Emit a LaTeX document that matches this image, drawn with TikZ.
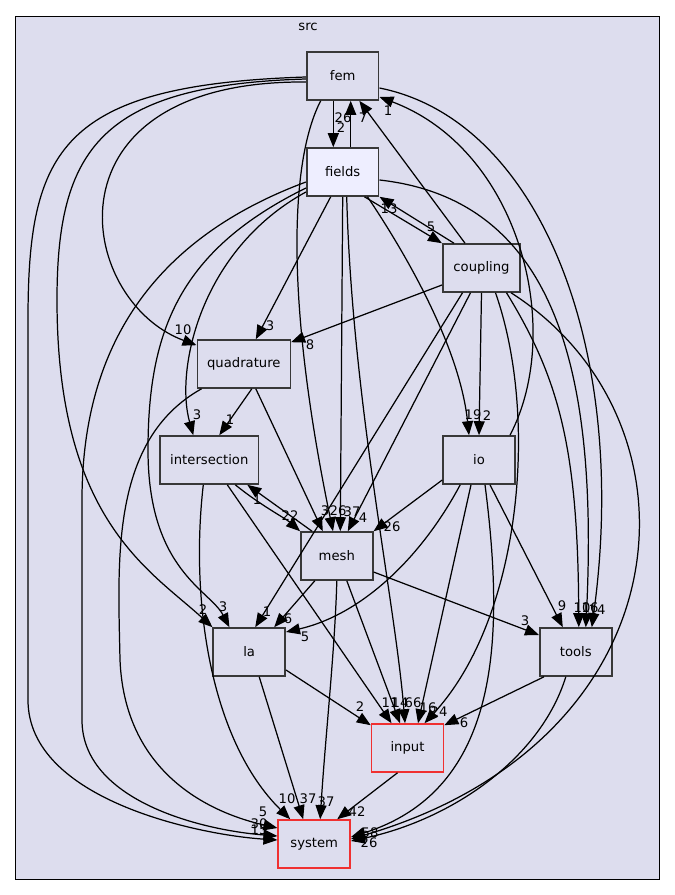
\documentclass[tikz,border=0pt]{standalone}
\usepackage{fontspec}
\setmainfont{DejaVu Sans}
\usepackage{tikz}
\usetikzlibrary{calc,arrows.meta}
\definecolor{clusterbg}{HTML}{DDDDEE}
\definecolor{curbg}{HTML}{EEEEFF}
\definecolor{edge}{HTML}{000000}
\definecolor{boxline}{HTML}{383838}
\definecolor{extline}{HTML}{F03030}
\tikzset{
  cluster/.style={draw=black, fill=clusterbg, line width=0.7pt},
  dirbox/.style={draw=boxline, fill=clusterbg, line width=0.9pt, minimum width=14.4mm,
    minimum height=9.6mm, inner sep=0pt, text=edge, font=\fontsize{7.5}{8.5}\selectfont},
  curbox/.style={dirbox, fill=curbg},
  extbox/.style={dirbox, draw=extline},
  dep/.style={draw=edge, line width=0.7pt, -{Triangle[length=2.8mm,width=2.2mm]}},
  lab/.style={font=\fontsize{7.5}{8.5}\selectfont, inner sep=0pt, text=edge}
}

\begin{document}
\begin{tikzpicture}[x=0.02cm, y=-0.02cm]
  \useasboundingbox[fill=white] (0,0) rectangle (675,895);
  \draw[cluster] (15.5,16.5) rectangle (659.5,879.5);
  \node[lab] (srclabel) at (308,27) {src};

  % directories
  \node[dirbox] (fem) at (342.7,76) {fem};
  \node[curbox] (fields) at (342.7,172) {fields};
  \node[dirbox, minimum width=15.5mm] (coupling) at (481.5,268) {coupling};
  \node[dirbox, minimum width=18.6mm] (quadrature) at (243.8,364) {quadrature};
  \node[dirbox, minimum width=19.7mm] (intersection) at (209.3,460) {intersection};
  \node[dirbox] (io) at (479,460) {io};
  \node[dirbox] (mesh) at (336.8,556) {mesh};
  \node[dirbox] (la) at (249.2,652) {la};
  \node[dirbox] (tools) at (575.8,652) {tools};
  \node[extbox] (input) at (407.5,748) {input};
  \node[extbox] (system) at (314.2,844) {system};

  % fem
  \draw[dep] ($(fem.south)+(-9.4,0)$) -- ($(fields.north)+(-9.4,0)$) node[lab] at (341,128) {2};
  \draw[dep] ($(fem.west)+(0,6)$) .. controls (40,80) and (75,300) .. ($(quadrature.north west)+(0,6)$)
    node[lab] at (183,330) {10};
  \draw[dep] ($(fem.west)+(0,3)$) .. controls (100,85) and (57,150) .. (57,300)
    .. controls (57,520) and (150,570) .. (la.north west) node[lab] at (203,610) {2};
  \draw[dep] ($(fem.west)+(0,1)$) .. controls (60,85) and (28,150) .. (28,320) -- (28,700)
    .. controls (28,800) and (200,835) .. ($(system.west)+(0,-4)$) node[lab] at (259,830) {15};
  \draw[dep] ($(fem.south)+(-22,0)$) .. controls (290,160) and (285,300) .. ($(mesh.north)+(-3.8,0)$)
    node[lab] at (338,511) {26};
  \draw[dep] ($(fem.east)+(0,12)$) .. controls (540,120) and (630,350) .. ($(tools.north)+(16,0)$)
    node[lab] at (597,610) {14};

  % fields
  \draw[dep] ($(fields.north)+(8,0)$) -- ($(fem.south)+(8,0)$) node[lab] at (343,118) {26};
  \draw[dep] ($(fields.west)+(0,10)$) .. controls (150,240) and (82,350) .. (82,500) -- (82,720)
    .. controls (82,800) and (200,830) .. ($(system.west)+(0,-8)$) node[lab] at (259,824) {30};
  \draw[dep] ($(fields.west)+(0,16)$) .. controls (180,250) and (148,330) .. (148,450)
    .. controls (148,570) and (210,590) .. ($(la.north west)+(17,0)$) node[lab] at (223,607) {3};
  \draw[dep] ($(fields.west)+(0,20)$) .. controls (200,250) and (175,370) .. ($(intersection.north)+(-16,0)$)
    node[lab] at (197,415) {3};
  \draw[dep] ($(fields.south)+(-12,0)$) -- ($(quadrature.north)+(12,0)$) node[lab] at (270,326) {3};
  \draw[dep] (fields.south) -- ($(mesh.north)+(3.5,0)$) node[lab] at (352,512) {37};
  \draw[dep] ($(fields.south)+(4,0)$) .. controls (352,400) and (395,600) .. ($(input.north)+(-2.5,0)$)
    node[lab] at (413,703) {66};
  \draw[dep] ($(fields.south east)+(-12,0)$) .. controls (410,260) and (460,350) .. ($(io.north)+(-10,0)$)
    node[lab] at (473,415) {19};
  \draw[dep] ($(fields.south east)+(-15,0)$) -- (coupling.north west) node[lab] at (431,227) {5};
  \draw[dep] ($(fields.east)+(0,8)$) .. controls (560,200) and (598,380) .. ($(tools.north)+(10,0)$)
    node[lab] at (590,608) {16};

  % coupling
  \draw[dep] ($(coupling.north)+(-16.5,0)$) -- ($(fem.south)+(16.6,0)$) node[lab] at (363,118) {7};
  \draw[dep] ($(coupling.north west)+(12,0)$) -- (fields.south east) node[lab] at (389,209) {13};
  \draw[dep] ($(coupling.west)+(0,17)$) -- ($(quadrature.north east)+(0,3)$) node[lab] at (310,345) {8};
  \draw[dep] ($(coupling.south)+(-19,0)$) -- ($(la.north)+(6,0)$) node[lab] at (267,612) {1};
  \draw[dep] ($(coupling.south)+(-11,0)$) -- ($(mesh.north)+(11,0)$) node[lab] at (363,518) {4};
  \draw[dep] (coupling.south) -- (io.north) node[lab] at (487,416) {2};
  \draw[dep] ($(coupling.south)+(14,0)$) .. controls (540,420) and (520,620) .. ($(input.north)+(17,0)$)
    node[lab] at (439,712) {24};
  \draw[dep] ($(coupling.south)+(25,0)$) .. controls (560,380) and (578,450) .. ($(tools.north)+(3,0)$)
    node[lab] at (582,608) {10};
  \draw[dep] ($(coupling.south east)+(-10,0)$) .. controls (710,420) and (690,740) .. ($(system.east)+(0,-5)$)
    node[lab] at (369,843) {26};

  % quadrature
  \draw[dep] ($(quadrature.south)+(8,0)$) -- ($(intersection.north)+(10,0)$) node[lab] at (230,420) {1};
  \draw[dep] ($(quadrature.south)+(12,0)$) -- ($(mesh.north)+(-14,0)$) node[lab] at (325,511) {3};
  \draw[dep] ($(quadrature.south west)+(5,0)$) .. controls (110,440) and (118,560) .. (120,660)
    .. controls (125,780) and (220,815) .. ($(system.west)+(0,-16)$) node[lab] at (263,812) {5};

  % intersection
  \draw[dep] ($(intersection.south)+(26,0)$) .. controls (260,505) and (285,518) .. (mesh.north west)
    node[lab] at (290,516) {22};
  \draw[dep] ($(intersection.south)+(18,0)$) -- ($(input.north)+(-16,0)$) node[lab] at (390,703) {11};
  \draw[dep] ($(intersection.south)+(-6,0)$) .. controls (190,600) and (210,740) .. ($(system.north)+(-24,0)$)
    node[lab] at (287,799) {10};

  % io
  \draw[dep] ($(io.north)+(31,0)$) .. controls (565,330) and (520,150) .. ($(fem.east)+(0,21)$)
    node[lab] at (388,111) {1};
  \draw[dep] ($(io.west)+(0,20)$) -- (mesh.north east) node[lab] at (392,527) {26};
  \draw[dep] ($(io.south west)+(18,0)$) .. controls (420,560) and (360,615) .. ($(la.east)+(0,-20)$)
    node[lab] at (305,637) {5};
  \draw[dep] ($(io.south)+(-8,0)$) -- ($(input.north)+(10.5,0)$) node[lab] at (428,708) {16};
  \draw[dep] ($(io.south)+(6,0)$) .. controls (505,640) and (500,790) .. ($(system.east)+(0,-7)$)
    node[lab] at (370,833) {58};
  \draw[dep] ($(io.south)+(11,0)$) -- ($(tools.north)+(-13,0)$) node[lab] at (562,606) {9};

  % mesh
  \draw[dep] ($(mesh.north west)+(12,0)$) -- ($(intersection.south east)+(-12,0)$) node[lab] at (257,500) {1};
  \draw[dep] ($(mesh.south)+(-22,0)$) -- ($(la.north)+(25,0)$) node[lab] at (288,619) {6};
  \draw[dep] ($(mesh.east)+(0,16)$) -- ($(tools.west)+(0,-17)$) node[lab] at (525,621) {3};
  \draw[dep] ($(mesh.south)+(10,0)$) -- ($(input.north)+(-7.5,0)$) node[lab] at (400,703) {14};
  \draw[dep] (mesh.south) .. controls (335,650) and (325,740) .. ($(system.north)+(6,0)$)
    node[lab] at (326,802) {37};

  % la, tools, input
  \draw[dep] ($(la.east)+(0,18)$) -- ($(input.north west)+(0,2)$) node[lab] at (360,707) {2};
  \draw[dep] ($(la.south)+(10,0)$) -- ($(system.north)+(-11,0)$) node[lab] at (308,799) {37};
  \draw[dep] ($(tools.south west)+(5,0)$) -- ($(input.north east)+(0,2)$) node[lab] at (464,723) {6};
  \draw[dep] ($(tools.south)+(-10,0)$) .. controls (540,760) and (450,820) .. ($(system.east)+(0,-3)$);
  \draw[dep] ($(input.south)+(-10,0)$) -- ($(system.north)+(23,0)$) node[lab] at (357,812) {42};
\end{tikzpicture}
\end{document}
